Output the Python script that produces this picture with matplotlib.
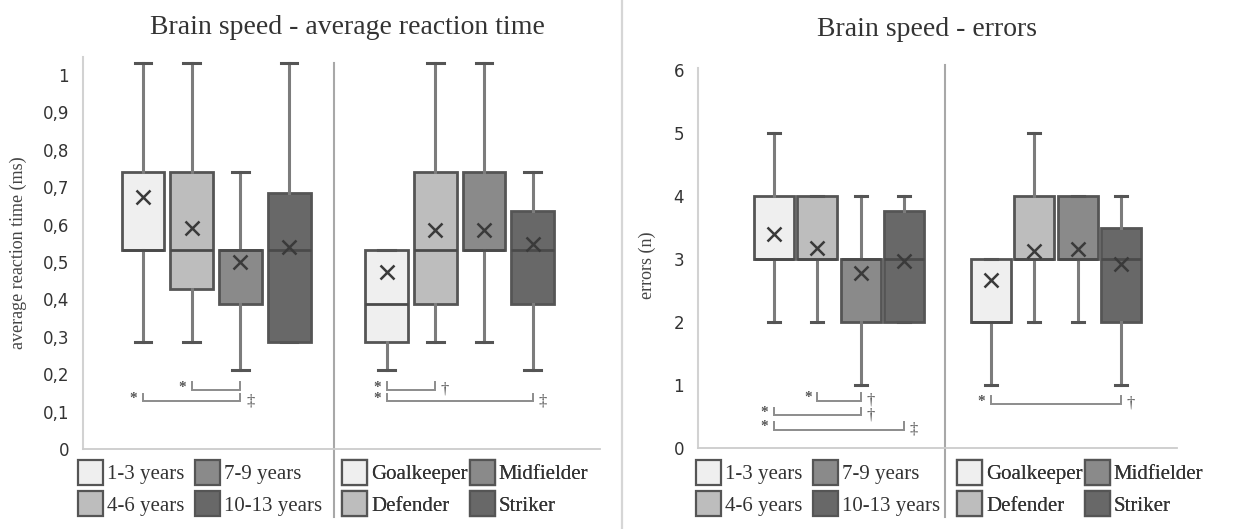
import matplotlib
matplotlib.use("Agg")
import matplotlib.pyplot as plt
from matplotlib.patches import Patch
from matplotlib.lines import Line2D

# ---- categories -----------------------------------------------------------
age_groups = ["1-3 years", "4-6 years", "7-9 years", "10-13 years"]
roles = ["Goalkeeper", "Defender", "Midfielder", "Striker"]

# ---- average reaction time (ms), by age group ------------------------------
rt_age_low = [0.285, 0.285, 0.21, 0.285]
rt_age_q1 = [0.532, 0.428, 0.387, 0.285]
rt_age_med = [0.532, 0.532, 0.532, 0.532]
rt_age_q3 = [0.741, 0.741, 0.532, 0.685]
rt_age_high = [1.031, 1.031, 0.741, 1.031]
rt_age_mean = [0.675, 0.591, 0.501, 0.541]

# ---- average reaction time (ms), by playing position ----------------------
rt_pos_low = [0.21, 0.285, 0.285, 0.21]
rt_pos_q1 = [0.285, 0.387, 0.532, 0.387]
rt_pos_med = [0.387, 0.532, 0.532, 0.532]
rt_pos_q3 = [0.532, 0.741, 0.741, 0.635]
rt_pos_high = [0.532, 1.031, 1.031, 0.741]
rt_pos_mean = [0.474, 0.586, 0.586, 0.548]

# ---- errors (n), by age group ---------------------------------------------
err_age_low = [2, 2, 1, 2]
err_age_q1 = [3, 3, 2, 2]
err_age_med = [3, 3, 3, 3]
err_age_q3 = [4, 4, 3, 3.76]
err_age_high = [5, 4, 4, 4]
err_age_mean = [3.39, 3.17, 2.77, 2.96]

# ---- errors (n), by playing position --------------------------------------
err_pos_low = [1, 2, 2, 1]
err_pos_q1 = [2, 3, 3, 2]
err_pos_med = [2, 3, 3, 3]
err_pos_q3 = [3, 4, 4, 3.49]
err_pos_high = [3, 5, 4, 4]
err_pos_mean = [2.66, 3.12, 3.15, 2.92]

# ---- significance brackets: (from group, to group, height, right mark) -----
rt_brackets = [(2, 3, 0.158, ""), (1, 3, 0.128, "\u2021"),
               (6, 7, 0.158, "\u2020"), (6, 9, 0.128, "\u2021")]
err_brackets = [(2, 3, 0.75, "\u2020"), (1, 3, 0.52, "\u2020"),
                (1, 4, 0.29, "\u2021"), (6, 9, 0.70, "\u2020")]

rt_ticks = [0, 0.1, 0.2, 0.3, 0.4, 0.5, 0.6, 0.7, 0.8, 0.9, 1]
rt_tick_labels = ["0", "0,1", "0,2", "0,3", "0,4", "0,5", "0,6", "0,7",
                  "0,8", "0,9", "1"]
err_ticks = [0, 1, 2, 3, 4, 5, 6]
err_tick_labels = ["0", "1", "2", "3", "4", "5", "6"]

# ---- styling --------------------------------------------------------------
fills = ["#efefef", "#bdbdbd", "#8a8a8a", "#686868"]
edge = "#555555"
whisker_col = "#7c7c7c"
serif = "Liberation Serif"
W, H = 1241, 529

fig = plt.figure(figsize=(W / 100, H / 100), dpi=100)
fig.patch.set_facecolor("white")


def px_axes(x0, x1, ybot, ytop):
    return fig.add_axes([x0 / W, 1 - ybot / H, (x1 - x0) / W, (ybot - ytop) / H])


def make_stats(low, q1, med, q3, high, mean):
    return [dict(whislo=a, q1=b, med=c, q3=d, whishi=e, mean=f, fliers=[])
            for a, b, c, d, e, f in zip(low, q1, med, q3, high, mean)]


def draw_boxes(ax, stats, pos, width, capw):
    res = ax.bxp(stats, positions=pos, widths=width, patch_artist=True,
                 showmeans=True, showfliers=False, manage_ticks=False,
                 capwidths=capw,
                 boxprops=dict(edgecolor=edge, linewidth=2.0),
                 whiskerprops=dict(color=whisker_col, linewidth=2.2),
                 capprops=dict(color=edge, linewidth=2.2),
                 medianprops=dict(color="#4a4a4a", linewidth=2.0),
                 meanprops=dict(marker="x", markersize=10,
                                markeredgecolor="#3a3a3a",
                                markeredgewidth=1.8, linestyle="none"))
    for box, c in zip(res["boxes"], fills):
        box.set_facecolor(c)


def style_axes(ax, ylim, xlim, ticks, labels, divider, div_top, div_bot):
    ax.set_xlim(*xlim)
    ax.set_ylim(*ylim)
    ax.set_xticks([])
    ax.set_yticks(ticks)
    ax.set_yticklabels(labels, fontfamily="DejaVu Sans", fontsize=12,
                       color="#333333")
    ax.tick_params(axis="y", length=0, pad=10)
    for s in ("top", "right"):
        ax.spines[s].set_visible(False)
    ax.spines["left"].set_color("#d2d2d2")
    ax.spines["left"].set_linewidth(1.5)
    ax.spines["bottom"].set_color("#cccccc")
    ax.spines["bottom"].set_linewidth(1.3)
    ax.plot([divider, divider], [div_bot, div_top], color="#a8a8a8",
            lw=1.5, clip_on=False, zorder=1)


def draw_brackets(ax, brackets, tick_h):
    for g0, g1, y, mark in brackets:
        ax.plot([g0, g0, g1, g1], [y + tick_h, y, y, y + tick_h],
                color="#8c8c8c", lw=1.4, solid_joinstyle="miter")
        ax.annotate("*", xy=(g0, y), xytext=(-4, 2), textcoords="offset points",
                    ha="right", va="center", fontsize=11, fontfamily=serif,
                    color="#555555", fontweight="bold")
        if mark:
            ax.annotate(mark, xy=(g1, y), xytext=(4, 0),
                        textcoords="offset points", ha="left", va="center",
                        fontsize=12, fontfamily=serif, color="#555555")


def add_legends(ax, x_age, x_role, y_top):
    for labels, x0, cs in ((age_groups, x_age, 0.5), (roles, x_role, 0.1)):
        handles = [Patch(facecolor=c, edgecolor=edge, linewidth=1.6)
                   for c in fills]
        ax.legend(handles, labels, ncol=2, loc="upper left",
                  bbox_to_anchor=(x0 / W, 1 - y_top / H),
                  bbox_transform=fig.transFigure, frameon=False,
                  prop=dict(family=serif, size=15), borderpad=0,
                  borderaxespad=0, handlelength=1.2, handleheight=1.47,
                  handletextpad=0.19, columnspacing=cs, labelspacing=0.3,
                  labelcolor="#333333")
        ax.add_artist(ax.get_legend())


left_pos = [1, 2, 3, 4, 6, 7, 8, 9]

# ---- left panel: average reaction time -----------------------------------
ax1 = px_axes(83, 600, 449, 57)
rt_stats = make_stats(rt_age_low, rt_age_q1, rt_age_med, rt_age_q3,
                      rt_age_high, rt_age_mean)
rt_stats2 = make_stats(rt_pos_low, rt_pos_q1, rt_pos_med, rt_pos_q3,
                       rt_pos_high, rt_pos_mean)
draw_boxes(ax1, rt_stats, left_pos[:4], 0.88, 0.34)
draw_boxes(ax1, rt_stats2, left_pos[4:], 0.88, 0.34)
style_axes(ax1, (0, 1.048), (-0.232, 10.38), rt_ticks, rt_tick_labels,
           4.92, 1.033, -0.183)
draw_brackets(ax1, rt_brackets, 0.02)
ax1.set_ylabel("average reaction time (ms)", fontfamily=serif, fontsize=13,
               color="#444444")
ax1.yaxis.set_label_coords((27 - 83) / 517, 0.5)
add_legends(ax1, 78, 342, 460)

# ---- right panel: errors ---------------------------------------------------
ax2 = px_axes(698, 1177, 448, 68)
err_stats = make_stats(err_age_low, err_age_q1, err_age_med, err_age_q3,
                       err_age_high, err_age_mean)
err_stats2 = make_stats(err_pos_low, err_pos_q1, err_pos_med, err_pos_q3,
                        err_pos_high, err_pos_mean)
draw_boxes(ax2, err_stats, left_pos[:4], 0.92, 0.28)
draw_boxes(ax2, err_stats2, left_pos[4:], 0.92, 0.28)
style_axes(ax2, (0, 6.03), (-0.751, 10.286), err_ticks, err_tick_labels,
           4.94, 6.08, -1.09)
draw_brackets(ax2, err_brackets, 0.12)
ax2.set_ylabel("errors (n)", fontfamily=serif, fontsize=13, color="#444444")
ax2.yaxis.set_label_coords((656 - 698) / 479, 0.48)
add_legends(ax2, 696, 957, 460)

# ---- titles and page separator ---------------------------------------------
fig.text(347 / W, 1 - 27 / H, "Brain speed - average reaction time",
         fontfamily=serif, fontsize=20, color="#333333",
         ha="center", va="center")
fig.text(927 / W, 1 - 30 / H, "Brain speed - errors",
         fontfamily=serif, fontsize=20, color="#333333",
         ha="center", va="center")
fig.add_artist(Line2D([622 / W, 622 / W], [0, 1], transform=fig.transFigure,
                      color="#d6d6d6", lw=1.6))

fig.savefig("out.png", dpi=100, facecolor="white")
